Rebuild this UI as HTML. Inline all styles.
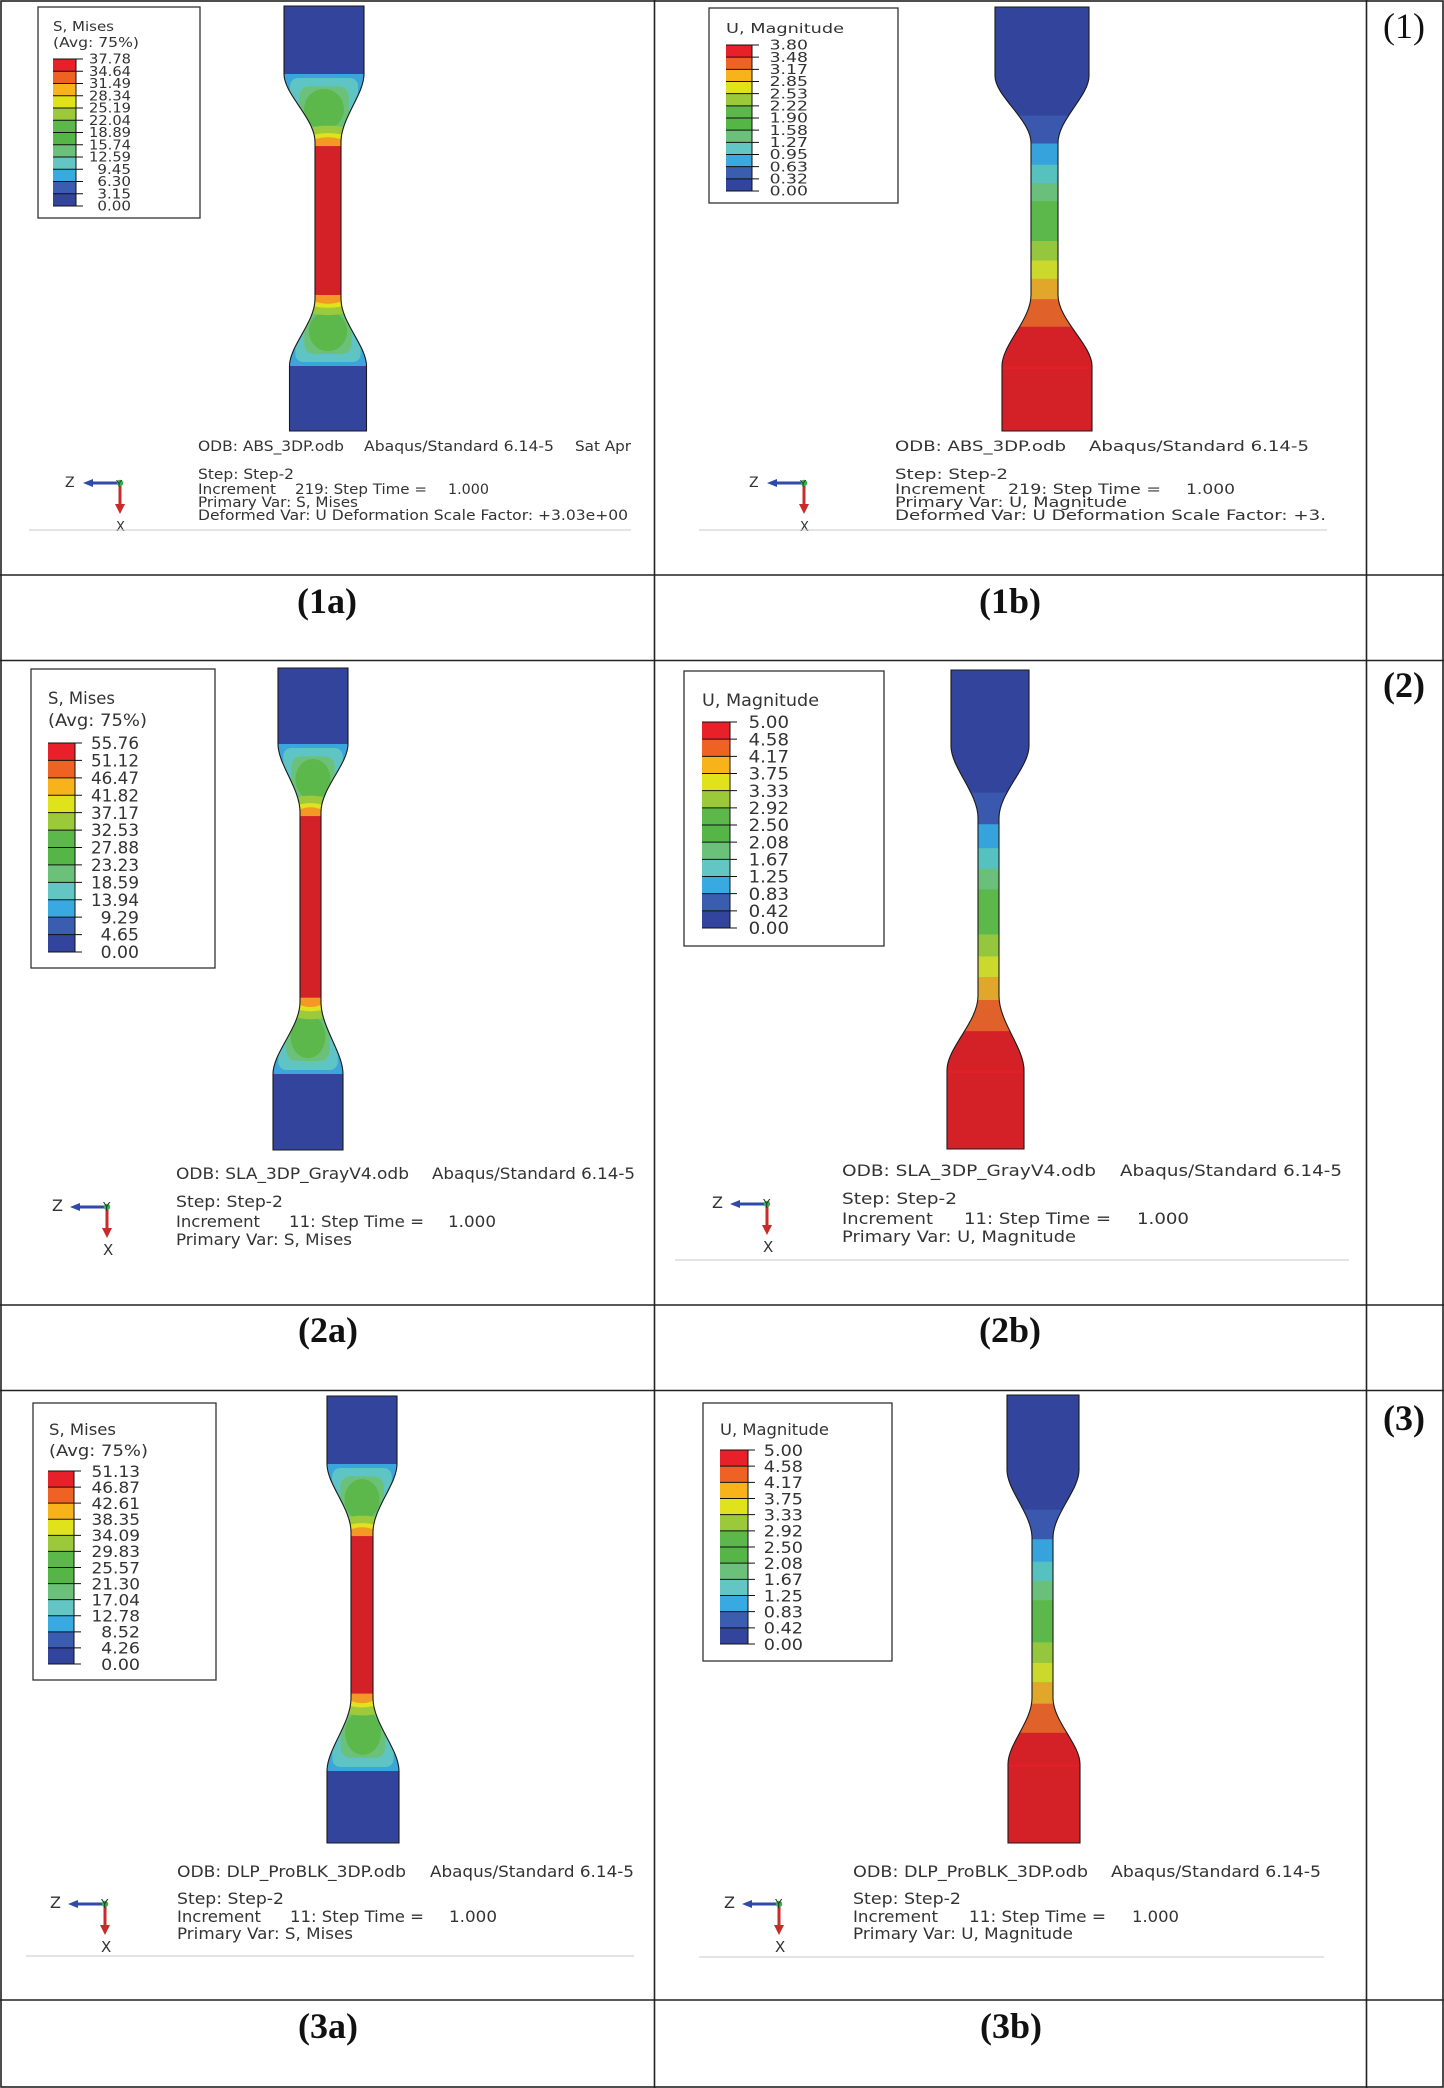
<!DOCTYPE html>
<html><head><meta charset="utf-8"><title>FE contour results</title>
<style>
html,body{margin:0;padding:0;background:#fff;}
svg{display:block;}
.ab{font-family:"DejaVu Sans","Liberation Sans",sans-serif;fill:#333;}
.lb{font-family:"Liberation Serif",serif;fill:#111;}
</style></head>
<body>
<svg id="fig" width="1444" height="2088" viewBox="0 0 1444 2088" xmlns="http://www.w3.org/2000/svg">
<rect x="0" y="0" width="1444" height="2088" fill="#fff"/>
<g id="specimens"></g>
<g id="legends"></g>
<g id="triads"></g>

<g stroke="#c8c8c8" stroke-width="1">
<line x1="29" y1="530" x2="631" y2="530"/>
<line x1="699" y1="530" x2="1327" y2="530"/>
<line x1="675" y1="1260" x2="1349" y2="1260"/>
<line x1="26" y1="1956" x2="634" y2="1956"/>
<line x1="699" y1="1957" x2="1324" y2="1957"/>
</g>

<g class="ab" font-size="14">
<text x="198" y="451" textLength="146" lengthAdjust="spacingAndGlyphs">ODB: ABS_3DP.odb</text>
<text x="364" y="451" textLength="190" lengthAdjust="spacingAndGlyphs">Abaqus/Standard 6.14-5</text>
<text x="575" y="451" textLength="56" lengthAdjust="spacingAndGlyphs">Sat Apr</text>
<text x="198" y="479" textLength="96" lengthAdjust="spacingAndGlyphs">Step: Step-2</text>
<text x="198" y="494" textLength="78" lengthAdjust="spacingAndGlyphs">Increment</text>
<text x="295" y="494" textLength="132" lengthAdjust="spacingAndGlyphs">219: Step Time =</text>
<text x="448" y="494" textLength="41" lengthAdjust="spacingAndGlyphs">1.000</text>
<text x="198" y="507" textLength="160" lengthAdjust="spacingAndGlyphs">Primary Var: S, Mises</text>
<text x="198" y="520" textLength="430" lengthAdjust="spacingAndGlyphs">Deformed Var: U   Deformation Scale Factor: +3.03e+00</text>
</g>
<g class="ab" font-size="14">
<text x="895" y="451" textLength="171" lengthAdjust="spacingAndGlyphs">ODB: ABS_3DP.odb</text>
<text x="1089" y="451" textLength="220" lengthAdjust="spacingAndGlyphs">Abaqus/Standard 6.14-5</text>
<text x="895" y="479" textLength="113" lengthAdjust="spacingAndGlyphs">Step: Step-2</text>
<text x="895" y="494" textLength="90" lengthAdjust="spacingAndGlyphs">Increment</text>
<text x="1008" y="494" textLength="153" lengthAdjust="spacingAndGlyphs">219: Step Time =</text>
<text x="1186" y="494" textLength="49" lengthAdjust="spacingAndGlyphs">1.000</text>
<text x="895" y="507" textLength="232" lengthAdjust="spacingAndGlyphs">Primary Var: U, Magnitude</text>
<text x="895" y="520" textLength="431" lengthAdjust="spacingAndGlyphs">Deformed Var: U   Deformation Scale Factor: +3.</text>
</g>
<g class="ab" font-size="16">
<text x="176" y="1179" textLength="233" lengthAdjust="spacingAndGlyphs">ODB: SLA_3DP_GrayV4.odb</text>
<text x="432" y="1179" textLength="203" lengthAdjust="spacingAndGlyphs">Abaqus/Standard 6.14-5</text>
<text x="176" y="1207" textLength="107" lengthAdjust="spacingAndGlyphs">Step: Step-2</text>
<text x="176" y="1227" textLength="84" lengthAdjust="spacingAndGlyphs">Increment</text>
<text x="289" y="1227" textLength="135" lengthAdjust="spacingAndGlyphs">11: Step Time =</text>
<text x="448" y="1227" textLength="48" lengthAdjust="spacingAndGlyphs">1.000</text>
<text x="176" y="1245" textLength="176" lengthAdjust="spacingAndGlyphs">Primary Var: S, Mises</text>
</g>
<g class="ab" font-size="16">
<text x="842" y="1176" textLength="254" lengthAdjust="spacingAndGlyphs">ODB: SLA_3DP_GrayV4.odb</text>
<text x="1120" y="1176" textLength="222" lengthAdjust="spacingAndGlyphs">Abaqus/Standard 6.14-5</text>
<text x="842" y="1204" textLength="115" lengthAdjust="spacingAndGlyphs">Step: Step-2</text>
<text x="842" y="1224" textLength="91" lengthAdjust="spacingAndGlyphs">Increment</text>
<text x="964" y="1224" textLength="147" lengthAdjust="spacingAndGlyphs">11: Step Time =</text>
<text x="1137" y="1224" textLength="52" lengthAdjust="spacingAndGlyphs">1.000</text>
<text x="842" y="1242" textLength="234" lengthAdjust="spacingAndGlyphs">Primary Var: U, Magnitude</text>
</g>
<g class="ab" font-size="16">
<text x="177" y="1877" textLength="229" lengthAdjust="spacingAndGlyphs">ODB: DLP_ProBLK_3DP.odb</text>
<text x="430" y="1877" textLength="204" lengthAdjust="spacingAndGlyphs">Abaqus/Standard 6.14-5</text>
<text x="177" y="1904" textLength="107" lengthAdjust="spacingAndGlyphs">Step: Step-2</text>
<text x="177" y="1922" textLength="84" lengthAdjust="spacingAndGlyphs">Increment</text>
<text x="290" y="1922" textLength="134" lengthAdjust="spacingAndGlyphs">11: Step Time =</text>
<text x="449" y="1922" textLength="48" lengthAdjust="spacingAndGlyphs">1.000</text>
<text x="177" y="1939" textLength="176" lengthAdjust="spacingAndGlyphs">Primary Var: S, Mises</text>
</g>
<g class="ab" font-size="16">
<text x="853" y="1877" textLength="235" lengthAdjust="spacingAndGlyphs">ODB: DLP_ProBLK_3DP.odb</text>
<text x="1111" y="1877" textLength="210" lengthAdjust="spacingAndGlyphs">Abaqus/Standard 6.14-5</text>
<text x="853" y="1904" textLength="108" lengthAdjust="spacingAndGlyphs">Step: Step-2</text>
<text x="853" y="1922" textLength="85" lengthAdjust="spacingAndGlyphs">Increment</text>
<text x="969" y="1922" textLength="137" lengthAdjust="spacingAndGlyphs">11: Step Time =</text>
<text x="1132" y="1922" textLength="47" lengthAdjust="spacingAndGlyphs">1.000</text>
<text x="853" y="1939" textLength="220" lengthAdjust="spacingAndGlyphs">Primary Var: U, Magnitude</text>
</g>

<g class="lb" font-size="36" text-anchor="middle">
<text x="327" y="613" font-weight="bold">(1a)</text>
<text x="1010" y="613" font-weight="bold">(1b)</text>
<text x="328" y="1342" font-weight="bold">(2a)</text>
<text x="1010" y="1342" font-weight="bold">(2b)</text>
<text x="328" y="2038" font-weight="bold">(3a)</text>
<text x="1011" y="2038" font-weight="bold">(3b)</text>
<text x="1404" y="38">(1)</text>
<text x="1404" y="697" font-weight="bold">(2)</text>
<text x="1404" y="1430" font-weight="bold">(3)</text>
</g>

<g stroke="#222" stroke-width="1.6" fill="none">
<rect x="1" y="1" width="1442" height="2086"/>
<line x1="654.5" y1="0" x2="654.5" y2="2088"/>
<line x1="1366.5" y1="0" x2="1366.5" y2="2088"/>
<line x1="0" y1="575" x2="1444" y2="575"/>
<line x1="0" y1="660.5" x2="1444" y2="660.5"/>
<line x1="0" y1="1305" x2="1444" y2="1305"/>
<line x1="0" y1="1390.5" x2="1444" y2="1390.5"/>
<line x1="0" y1="2000" x2="1444" y2="2000"/>
</g>
</svg>

<script>
var NS = "http://www.w3.org/2000/svg";
// legend values (top to bottom)
var misesValues1 = ["37.78","34.64","31.49","28.34","25.19","22.04","18.89","15.74","12.59","9.45","6.30","3.15","0.00"];
var dispValues1 = ["3.80","3.48","3.17","2.85","2.53","2.22","1.90","1.58","1.27","0.95","0.63","0.32","0.00"];
var misesValues2 = ["55.76","51.12","46.47","41.82","37.17","32.53","27.88","23.23","18.59","13.94","9.29","4.65","0.00"];
var dispValues2 = ["5.00","4.58","4.17","3.75","3.33","2.92","2.50","2.08","1.67","1.25","0.83","0.42","0.00"];
var misesValues3 = ["51.13","46.87","42.61","38.35","34.09","29.83","25.57","21.30","17.04","12.78","8.52","4.26","0.00"];
var dispValues3 = ["5.00","4.58","4.17","3.75","3.33","2.92","2.50","2.08","1.67","1.25","0.83","0.42","0.00"];
var bandColors = ["#e8202a","#ee6324","#f8b31b","#e0e31c","#9bc93a","#5cb84a","#55b547","#6cc17a","#63c6c4","#39aae1","#3a5db0","#33449c"];
// displacement band positions along specimen length (fraction top->bottom)
var dispBandStarts = [0.256,0.322,0.372,0.415,0.458,0.552,0.598,0.641,0.689,0.754];
var dispBandColors = ["#3a58ad","#36a3dc","#55c2c0","#6abf7a","#5cb84a","#94c73e","#cbd92c","#e0a72b","#e0622a","#d42027"];

function el(tag, attrs, parent){
  var e = document.createElementNS(NS, tag);
  for (var k in attrs) e.setAttribute(k, attrs[k]);
  if (parent) parent.appendChild(e);
  return e;
}

var legends = [
 {id:"1a", box:[38,7,200,218], titles:[["S, Mises",53,31,61],["(Avg: 75%)",53,47,86]], bar:[53,59,76,206], right:131, fs:13, cw:8.4, vals:misesValues1},
 {id:"1b", box:[709,8,898,203], titles:[["U, Magnitude",726,33,118]], bar:[726,45,752,191], right:808, fs:13, cw:9.6, vals:dispValues1},
 {id:"2a", box:[31,669,215,968], titles:[["S, Mises",48,704,67],["(Avg: 75%)",48,726,99]], bar:[48,743,75,952], right:139, fs:17, cw:9.6, vals:misesValues2},
 {id:"2b", box:[684,671,884,946], titles:[["U, Magnitude",702,706,117]], bar:[702,722,730,928], right:789, fs:17, cw:10.1, vals:dispValues2},
 {id:"3a", box:[33,1403,216,1680], titles:[["S, Mises",49,1435,67],["(Avg: 75%)",49,1456,99]], bar:[48,1471,74,1664], right:140, fs:16, cw:9.7, vals:misesValues3},
 {id:"3b", box:[703,1403,892,1661], titles:[["U, Magnitude",720,1435,109]], bar:[720,1450,748,1644], right:803, fs:16, cw:9.8, vals:dispValues3}
];
var lg = document.getElementById("legends");
legends.forEach(function(L){
  var g = el("g", {}, lg);
  
  
  var b = el("rect", {x:L.box[0], y:L.box[1], width:L.box[2]-L.box[0], height:L.box[3]-L.box[1], fill:"#fff", stroke:"#333", "stroke-width":1.3}, g);
  
  
  L.titles.forEach(function(t){
    var tx = el("text", {x:t[1], y:t[2], "font-size":L.fs, "class":"ab", textLength:t[3], lengthAdjust:"spacingAndGlyphs"}, g);
    tx.textContent = t[0];
    
    
  });
  var n = L.vals.length - 1;
  var x0 = L.bar[0], y0 = L.bar[1], x1 = L.bar[2], y1 = L.bar[3];
  var h = (y1 - y0) / n;
  for (var i = 0; i < n; i++){
    var r = el("rect", {x:x0, y:y0 + i*h, width:x1-x0, height:h+0.3, fill:bandColors[i]}, g);
    
    
  }
  for (var j = 0; j <= n; j++){
    var yy = y0 + j*h;
    var ln = el("line", {x1:x0, y1:yy, x2:x1+7, y2:yy, stroke:"#111", "stroke-width":1}, g);
    
    
    var s = L.vals[j];
    var lt = el("text", {x:L.right, y:yy + L.fs*0.36, "font-size":L.fs, "class":"ab", "text-anchor":"end", textLength:(s.length*L.cw).toFixed(1), lengthAdjust:"spacingAndGlyphs"}, g);
    lt.textContent = s;
    
    
  }
  var vl = el("line", {x1:x1, y1:y0, x2:x1, y2:y1, stroke:"#111", "stroke-width":1}, g);
  
  
});

var specs = [
 {id:"1a", type:"mises", cT:324, wT:40, cG:328, wG:13, cB:328, wB:38.5, top:6, gE:74, gS:142, gEnd:299, bS:366, bot:431},
 {id:"1b", type:"disp", cT:1042, wT:47, cG:1044.5, wG:13.5, cB:1047, wB:45, top:7, gE:76, gS:143, gEnd:295, bS:366, bot:431},
 {id:"2a", type:"mises", cT:313, wT:35, cG:310.5, wG:10.5, cB:308, wB:35, top:668, gE:744, gS:812, gEnd:1002, bS:1074, bot:1150},
 {id:"2b", type:"disp", cT:990, wT:39, cG:988.5, wG:10.5, cB:985.5, wB:38.5, top:670, gE:746, gS:818, gEnd:996, bS:1070, bot:1149},
 {id:"3a", type:"mises", cT:362, wT:35, cG:362, wG:11, cB:363, wB:36, top:1396, gE:1464, gS:1532, gEnd:1698, bS:1771, bot:1843},
 {id:"3b", type:"disp", cT:1043, wT:36, cG:1042.5, wG:10.5, cB:1044, wB:36, top:1395, gE:1470, gS:1538, gEnd:1698, bS:1764, bot:1843}
];
var sg = document.getElementById("specimens");
var defs = el("defs", {}, document.getElementById("fig"));
specs.forEach(function(S){
  var tl=S.cT-S.wT, tr=S.cT+S.wT, gl=S.cG-S.wG, gr=S.cG+S.wG, bl=S.cB-S.wB, br=S.cB+S.wB;
  var d1=S.gS-S.gE, d2=S.bS-S.gEnd;
  var a=0.3, c=0.35;
  var p = "M"+tl+","+S.top+" L"+tr+","+S.top+" L"+tr+","+S.gE+
    " C"+tr+","+(S.gE+a*d1)+" "+gr+","+(S.gS-c*d1)+" "+gr+","+S.gS+
    " L"+gr+","+S.gEnd+
    " C"+gr+","+(S.gEnd+c*d2)+" "+br+","+(S.bS-a*d2)+" "+br+","+S.bS+
    " L"+br+","+S.bot+" L"+bl+","+S.bot+" L"+bl+","+S.bS+
    " C"+bl+","+(S.bS-a*d2)+" "+gl+","+(S.gEnd+c*d2)+" "+gl+","+S.gEnd+
    " L"+gl+","+S.gS+
    " C"+gl+","+(S.gS-c*d1)+" "+tl+","+(S.gE+a*d1)+" "+tl+","+S.gE+" Z";
  var cp = el("clipPath", {id:"clip"+S.id}, defs);
  el("path", {d:p}, cp);
  var g = el("g", {"clip-path":"url(#clip"+S.id+")"}, sg);
  
  
  var L = Math.min(tl,bl,gl)-5, W = Math.max(tr,br,gr)-L+10;
  el("rect", {x:L, y:S.top-2, width:W, height:S.bot-S.top+4, fill:"#33449c"}, g);
  if (S.type === "mises"){
    el("rect", {x:L, y:S.gE, width:W, height:d1, fill:"#3ba6dc"}, g);
    el("rect", {x:S.cT-S.wT*0.85, y:S.gE+4, width:S.wT*1.7, height:d1, rx:8, fill:"#5fc5c4"}, g);
    el("rect", {x:S.cT-S.wT*0.62, y:S.gE+0.18*d1, width:S.wT*1.24, height:d1*0.8, rx:10, fill:"#6cc17a"}, g);
    el("ellipse", {cx:S.cT, cy:S.gE+0.52*d1, rx:S.wT*0.5, ry:0.3*d1, fill:"#5cb84a"}, g);
    el("ellipse", {cx:S.cG, cy:S.gS-0.1*d1, rx:S.wG*2.3, ry:0.14*d1, fill:"#9dc93c"}, g);
    el("ellipse", {cx:S.cG, cy:S.gS-0.03*d1, rx:S.wG*1.7, ry:0.1*d1, fill:"#dfe21d"}, g);
    el("ellipse", {cx:S.cG, cy:S.gS+0.02*d1, rx:S.wG*1.3, ry:0.09*d1, fill:"#f29a25"}, g);
    el("rect", {x:L, y:S.gEnd, width:W, height:d2, fill:"#3ba6dc"}, g);
    el("rect", {x:S.cB-S.wB*0.85, y:S.gEnd-4, width:S.wB*1.7, height:d2, rx:8, fill:"#5fc5c4"}, g);
    el("rect", {x:S.cB-S.wB*0.62, y:S.gEnd, width:S.wB*1.24, height:d2*0.82, rx:10, fill:"#6cc17a"}, g);
    el("ellipse", {cx:S.cB, cy:S.bS-0.52*d2, rx:S.wB*0.5, ry:0.3*d2, fill:"#5cb84a"}, g);
    el("ellipse", {cx:S.cG, cy:S.gEnd+0.1*d2, rx:S.wG*2.3, ry:0.14*d2, fill:"#9dc93c"}, g);
    el("ellipse", {cx:S.cG, cy:S.gEnd+0.03*d2, rx:S.wG*1.7, ry:0.1*d2, fill:"#dfe21d"}, g);
    el("ellipse", {cx:S.cG, cy:S.gEnd-0.02*d2, rx:S.wG*1.3, ry:0.09*d2, fill:"#f29a25"}, g);
    el("rect", {x:L, y:S.gS+0.06*d1, width:W, height:(S.gEnd-0.06*d2)-(S.gS+0.06*d1), fill:"#d42027"}, g);
  } else {
    var len = S.bot - S.top;
    for (var i = 0; i < dispBandStarts.length; i++){
      var y0 = S.top + dispBandStarts[i]*len;
      var y1 = (i+1 < dispBandStarts.length) ? S.top + dispBandStarts[i+1]*len : S.bot+2;
      el("rect", {x:L, y:y0, width:W, height:y1-y0+0.4, fill:dispBandColors[i]}, g);
    }
    el("rect", {x:L, y:S.bS, width:W, height:3, fill:"#e11f27"}, g);
  }
  var o = el("path", {d:p, fill:"none", stroke:"#1a1a1a", "stroke-width":1.1}, sg);
  
  
});

var triads = [[120,483,"1a",14],[804,483,"1b",14],[107,1207,"2a",16],[767,1204,"2b",16],[105,1904,"3a",16],[779,1904,"3b",16]];
var tg = document.getElementById("triads");
triads.forEach(function(T){
  var ox=T[0], oy=T[1], fs=T[3];
  var g = el("g", {}, tg);
  
  
  el("line", {x1:ox, y1:oy, x2:ox-28, y2:oy, stroke:"#2f4aa8", "stroke-width":3}, g);
  el("polygon", {points:(ox-37)+","+oy+" "+(ox-27)+","+(oy-4)+" "+(ox-27)+","+(oy+4), fill:"#2f4aa8"}, g);
  el("line", {x1:ox, y1:oy, x2:ox, y2:oy+23, stroke:"#c92a2a", "stroke-width":3}, g);
  el("polygon", {points:ox+","+(oy+31)+" "+(ox-5)+","+(oy+21)+" "+(ox+5)+","+(oy+21), fill:"#c92a2a"}, g);
  el("circle", {cx:ox, cy:oy, r:3.2, fill:"#2fb34a"}, g);
  var z = el("text", {x:ox-55, y:oy+4, "font-size":fs, "class":"ab"}, g);
  z.textContent = "Z";
  
  
  var yl = el("text", {x:ox-4, y:oy+4, "font-size":fs-4, "class":"ab"}, g);
  yl.textContent = "Y";
  
  
  var x = el("text", {x:ox-4, y:oy+48, "font-size":fs-1, "class":"ab"}, g);
  x.textContent = "X";
  
  
});
</script>
</body></html>
